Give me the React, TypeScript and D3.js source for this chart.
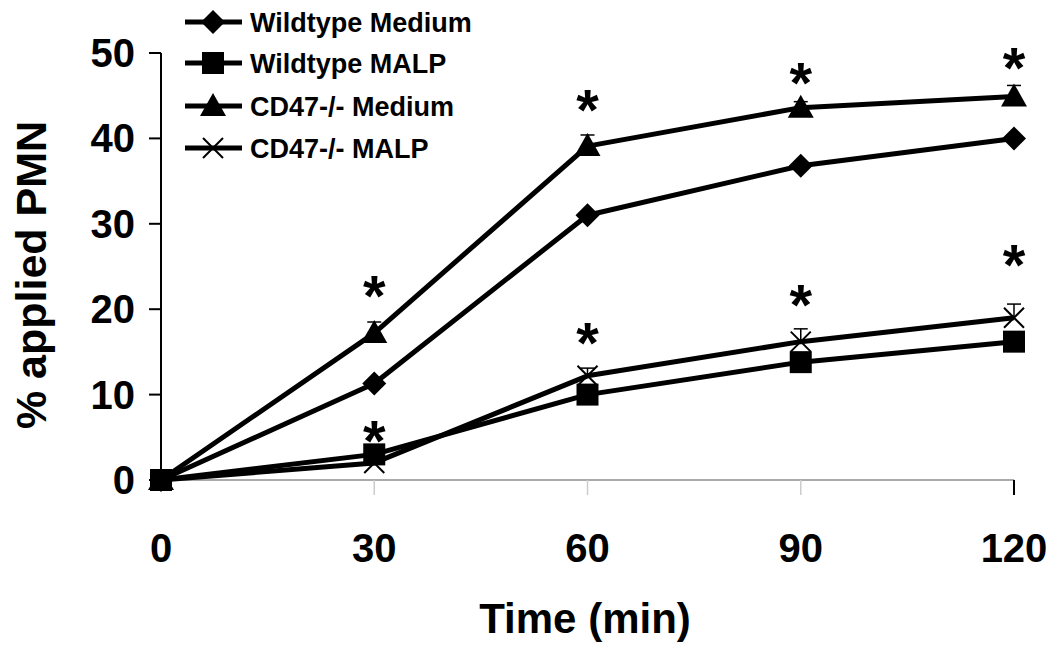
import React from "react";
import * as d3 from "d3";

const times = [0, 30, 60, 90, 120];
const wtMedium = [0, 11.3, 31.0, 36.8, 40.0];
const wtMalp = [0, 3.0, 10.0, 13.8, 16.2];
const cdMedium = [0, 17.2, 39.1, 43.6, 44.9];
const cdMalp = [0, 2.0, 12.2, 16.2, 19.0];
const cdMediumErr = [0, 1.3, 1.3, 0.7, 1.3];
const cdMalpErr = [0, 0, 0.9, 1.5, 1.6];
const seriesNames = ["Wildtype Medium", "Wildtype MALP", "CD47-/- Medium", "CD47-/- MALP"];
const yTicks = [0, 10, 20, 30, 40, 50];
const xTicks = [0, 30, 60, 90, 120];
const starTimes = [30, 30, 60, 60, 90, 90, 120, 120];
const starValues = [23.1, 6.1, 44.8, 17.6, 48.0, 22.0, 49.8, 26.7];

const W = 1058, H = 648;
const x = d3.scaleLinear().domain([0, 120]).range([161, 1014]);
const y = d3.scaleLinear().domain([0, 50]).range([480, 53]);
const FONT = "'Liberation Sans', Arial, sans-serif";

type Shape = "diamond" | "square" | "triangle" | "cross";

function Marker({ cx, cy, shape }: { cx: number; cy: number; shape: Shape }) {
  if (shape === "diamond") {
    const r = 12;
    return <path d={`M${cx},${cy - r}L${cx + r},${cy}L${cx},${cy + r}L${cx - r},${cy}Z`} fill="#000" />;
  }
  if (shape === "square") {
    const r = 11;
    return <rect x={cx - r} y={cy - r} width={2 * r} height={2 * r} fill="#000" />;
  }
  if (shape === "triangle") {
    const r = 13;
    return <path d={`M${cx},${cy - 13}L${cx + r},${cy + 10}L${cx - r},${cy + 10}Z`} fill="#000" />;
  }
  const r = 10;
  return (
    <path d={`M${cx - r},${cy - r}L${cx + r},${cy + r}M${cx - r},${cy + r}L${cx + r},${cy - r}`} stroke="#000" strokeWidth={2} fill="none" />
  );
}

export default function App() {
  const series: { vals: number[]; shape: Shape; err?: number[] }[] = [
    { vals: wtMedium, shape: "diamond" },
    { vals: wtMalp, shape: "square" },
    { vals: cdMedium, shape: "triangle", err: cdMediumErr },
    { vals: cdMalp, shape: "cross", err: cdMalpErr },
  ];
  const line = d3.line<number>().x((_, i) => x(times[i])).y((d) => y(d));
  const legendY = [22, 63, 106, 148];

  return (
    <svg width={W} height={H} style={{ position: "absolute", left: 0, top: 0, background: "#fff" }}>
      <rect width={W} height={H} fill="#fff" />
      {/* x axis */}
      <line x1={x(0)} x2={x(120)} y1={y(0)} y2={y(0)} stroke="#aaa" strokeWidth={2} />
      {xTicks.slice(1).map((t) => (
        <line key={t} x1={x(t)} x2={x(t)} y1={y(0)} y2={y(0) + 15} stroke={t === 120 ? "#000" : "#ccc"} strokeWidth={t === 120 ? 2 : 1.5} />
      ))}
      {/* y axis */}
      <line x1={x(0)} x2={x(0)} y1={y(50)} y2={y(0)} stroke="#000" strokeWidth={2} />
      {yTicks.map((t) => (
        <line key={t} x1={x(0) - 12} x2={x(0)} y1={y(t)} y2={y(t)} stroke="#000" strokeWidth={2} />
      ))}
      {yTicks.map((t) => (
        <text key={t} x={135} y={y(t) + 14} textAnchor="end" fontFamily={FONT} fontWeight="bold" fontSize={40}>{t}</text>
      ))}
      {xTicks.map((t) => (
        <text key={t} x={x(t)} y={562} textAnchor="middle" fontFamily={FONT} fontWeight="bold" fontSize={40}>{t}</text>
      ))}
      <text x={585} y={633} textAnchor="middle" fontFamily={FONT} fontWeight="bold" fontSize={42}>Time (min)</text>
      <text transform={`translate(46,275) rotate(-90)`} textAnchor="middle" fontFamily={FONT} fontWeight="bold" fontSize={43}>% applied PMN</text>

      {/* lines */}
      {series.map((s, i) => (
        <path key={i} d={line(s.vals) || ""} fill="none" stroke="#000" strokeWidth={5} strokeLinejoin="round" />
      ))}
      {/* error bars */}
      {series.map((s, i) =>
        s.err
          ? s.err.map((e, j) =>
              e > 0 ? (
                <g key={`${i}-${j}`}>
                  <line x1={x(times[j])} x2={x(times[j])} y1={y(s.vals[j])} y2={y(s.vals[j] + e)} stroke="#000" strokeWidth={1.5} />
                  <line x1={x(times[j]) - 7} x2={x(times[j]) + 7} y1={y(s.vals[j] + e)} y2={y(s.vals[j] + e)} stroke="#000" strokeWidth={1.5} />
                </g>
              ) : null
            )
          : null
      )}
      {/* markers */}
      {series.map((s, i) => s.vals.map((v, j) => <Marker key={`${i}-${j}`} cx={x(times[j])} cy={y(v)} shape={s.shape} />))}
      {/* stars */}
      {starTimes.map((t, i) => (
        <text key={i} x={x(t)} y={y(starValues[i]) + 33} textAnchor="middle" fontFamily={FONT} fontWeight="bold" fontSize={58}>*</text>
      ))}
      {/* legend */}
      {seriesNames.map((n, i) => (
        <g key={n}>
          <line x1={185} x2={242} y1={legendY[i]} y2={legendY[i]} stroke="#000" strokeWidth={5} />
          <Marker cx={213} cy={legendY[i]} shape={series[i].shape} />
          <text x={250} y={legendY[i] + 10} fontFamily={FONT} fontWeight="bold" fontSize={27}>{n}</text>
        </g>
      ))}
    </svg>
  );
}
